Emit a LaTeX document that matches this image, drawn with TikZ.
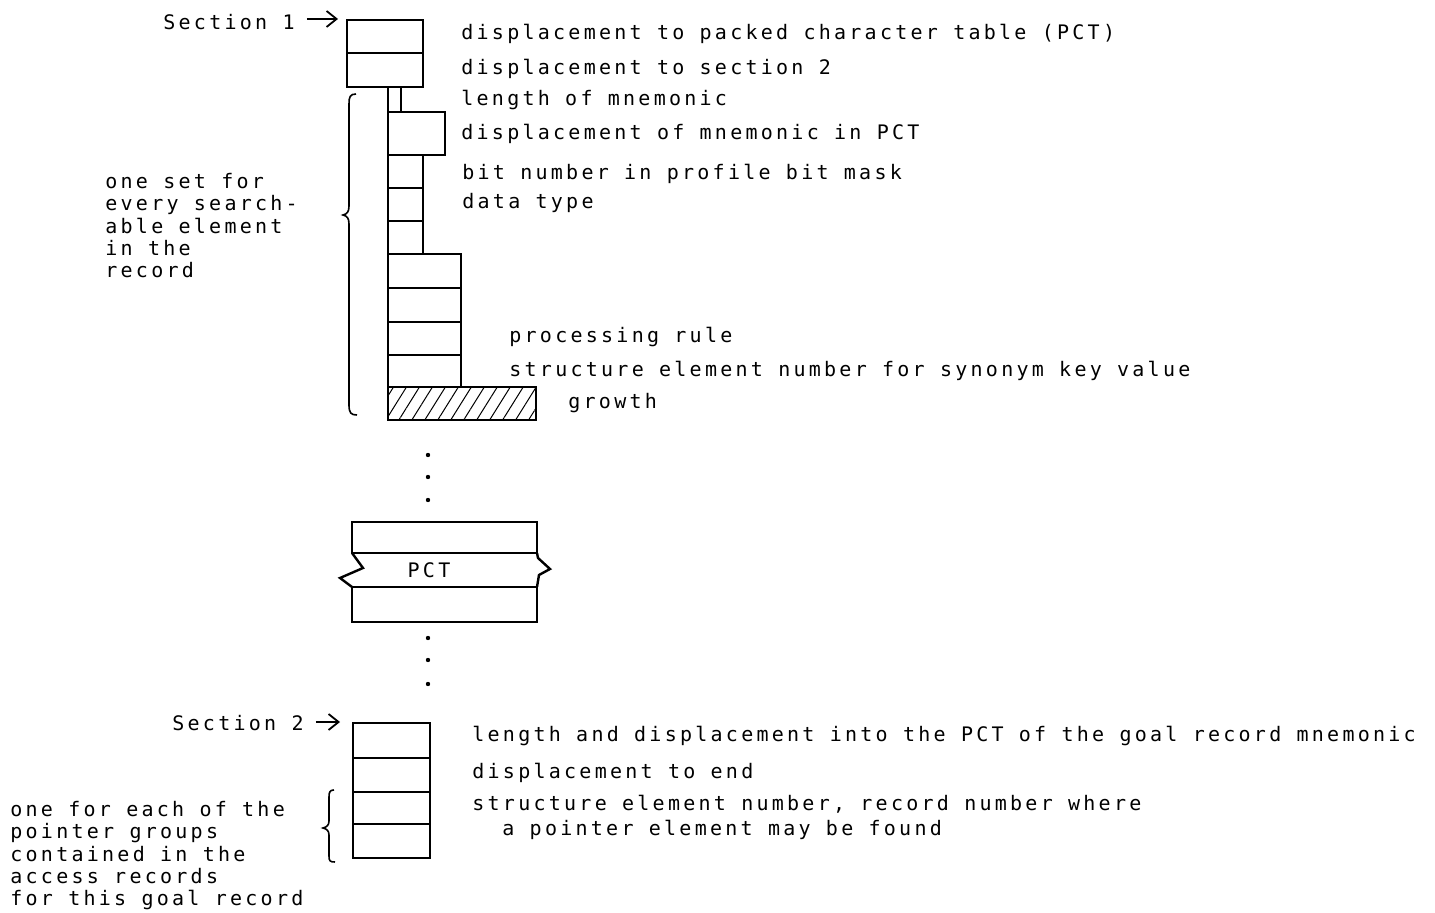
\documentclass[tikz,border=0pt]{standalone}
\usepackage{fontspec}
\newfontfamily\typewr[LetterSpace=16.3]{DejaVu Sans Mono}
\usetikzlibrary{arrows.meta,patterns.meta}

\begin{document}
\begin{tikzpicture}[x=0.5pt, y=-0.5pt]
        \tikzset{
            cell/.style={draw, line width=1.2pt},
            lbl/.style={font={\typewr\fontsize{10pt}{11.15pt}\selectfont}, anchor=base west, inner sep=0pt},
            note/.style={lbl, align=left, anchor=north west},
            secarrow/.style={-{Straight Barb[length=5pt, width=8pt]}, line width=0.9pt},
            brace/.style={line width=0.8pt}
        }
        \useasboundingbox (0,0) rectangle (1435,913);

        % section 1
        \node[lbl] (sec1) at (163,30) {Section 1};
        \coordinate (sec1tip) at (338,19);
        \draw[secarrow] ([xshift=6pt]sec1.east |- sec1tip) -- (sec1tip);

        \draw[cell] (347,20) rectangle (423,87);
        \draw[cell] (347,53) -- (423,53);
        \draw[cell] (388,87) -- (388,112);
        \draw[cell] (401,87) -- (401,112);
        \draw[cell] (388,112) rectangle (445,155);
        \draw[cell] (388,155) rectangle (423,254);
        \draw[cell] (388,188) -- (423,188);
        \draw[cell] (388,221) -- (423,221);
        \draw[cell] (388,254) rectangle (461,387);
        \draw[cell] (388,288) -- (461,288);
        \draw[cell] (388,322) -- (461,322);
        \draw[cell] (388,355) -- (461,355);
        \draw[cell, pattern={Lines[angle=58, distance=5.5pt, line width=0.5pt]}] (388,387) rectangle (536,420);

        \node[lbl] (pctdisp) at (461,40) {displacement to packed character table (PCT)};
        \node[lbl] (sec2disp) at (461,75) {displacement to section 2};
        \node[lbl] (mnlen) at (461,106) {length of mnemonic};
        \node[lbl] (mndisp) at (461,140) {displacement of mnemonic in PCT};
        \node[lbl] (bitnum) at (462,180) {bit number in profile bit mask};
        \node[lbl] (dtype) at (462,209) {data type};
        \node[lbl] (prule) at (509,343) {processing rule};
        \node[lbl] (synkey) at (509,377) {structure element number for synonym key value};
        \node[lbl] (growth) at (568,409) {growth};

        \draw[brace] (356,94) .. controls (350,94) and (349,97) .. (349,104) -- (349,206)
            .. controls (349,212) and (347,214) .. (343,215)
            .. controls (347,216) and (349,218) .. (349,224) -- (349,405)
            .. controls (349,413) and (351,415) .. (357,415);
        \node[note] (oneset) at (105,173) {one set for\\every search-\\able element\\in the\\record};

        \fill (428,455) circle (1.1pt);
        \fill (428,477) circle (1.1pt);
        \fill (428,500) circle (1.1pt);

        % packed character table
        \draw[cell] (352,522) rectangle (537,553);
        \draw[cell] (352,587) rectangle (537,622);
        \draw[cell] (352,553) -- (363,568) -- (340,578) -- (352,587);
        \draw[cell] (537,553) -- (538,558) -- (550,569) -- (539,575) -- (537,587);
        \node[lbl, anchor=base] (pct) at (429,578) {PCT};

        \fill (428,638) circle (1.1pt);
        \fill (428,660) circle (1.1pt);
        \fill (428,684) circle (1.1pt);

        % section 2
        \node[lbl] (sec2) at (172,731) {Section 2};
        \coordinate (sec2tip) at (340,722);
        \draw[secarrow] ([xshift=6pt]sec2.east |- sec2tip) -- (sec2tip);

        \draw[cell] (353,723) rectangle (430,858);
        \draw[cell] (353,758) -- (430,758);
        \draw[cell] (353,792) -- (430,792);
        \draw[cell] (353,824) -- (430,824);

        \node[lbl] (goalmn) at (472,742) {length and displacement into the PCT of the goal record mnemonic};
        \node[lbl] (enddisp) at (472,779) {displacement to end};
        \node[lbl] (ptrnum) at (472,811) {structure element number, record number where};
        \node[lbl] (ptrfound) at (502,835) {a pointer element may be found};

        \draw[brace] (334,790) .. controls (330,790) and (329,792) .. (329,797) -- (329,821)
            .. controls (329,825) and (327,827) .. (323,828)
            .. controls (327,829) and (329,831) .. (329,835) -- (329,856)
            .. controls (329,861) and (330,862) .. (335,862);
        \node[note] (oneeach) at (10,801) {one for each of the\\pointer groups\\contained in the\\access records\\for this goal record};
    \end{tikzpicture}
\end{document}
